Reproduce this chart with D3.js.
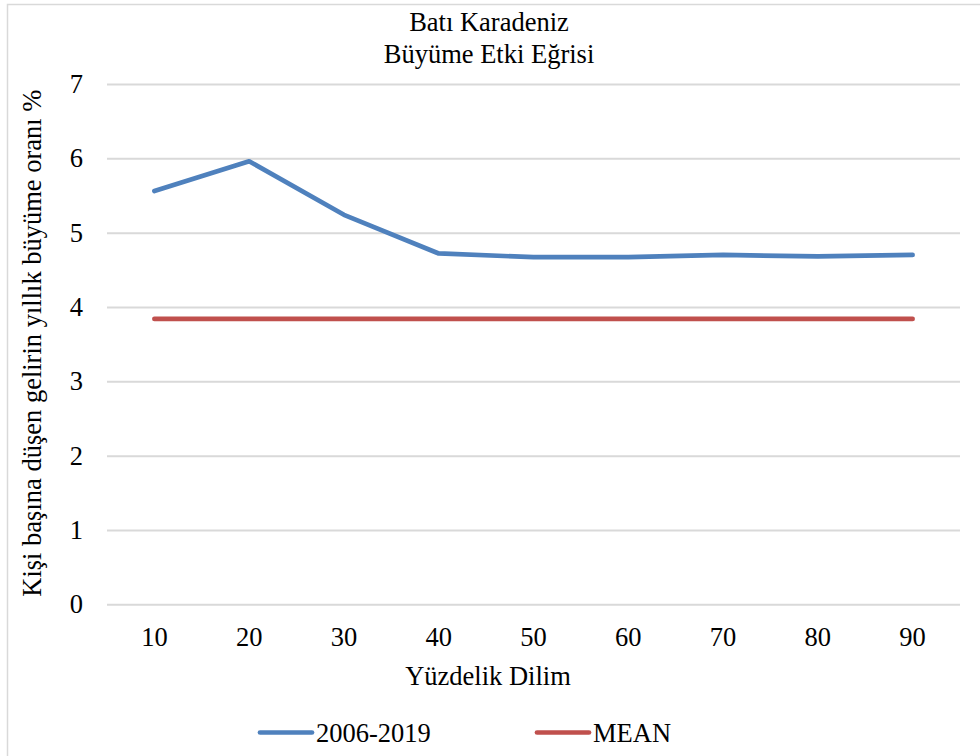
<!DOCTYPE html>
<html><head><meta charset="utf-8">
<script src="https://cdn.jsdelivr.net/npm/d3@7"></script>
<style>html,body{margin:0;padding:0;background:#fff;}svg{display:block;}</style>
</head><body>
<script>
const categories = ["10","20","30","40","50","60","70","80","90"];
const series2006 = [5.56, 5.96, 5.24, 4.72, 4.67, 4.67, 4.70, 4.68, 4.70];
const seriesMean = [3.84, 3.84, 3.84, 3.84, 3.84, 3.84, 3.84, 3.84, 3.84];
const yTicks = [0,1,2,3,4,5,6,7];
const titleLines = ["Batı Karadeniz", "Büyüme Etki Eğrisi"];
const xTitle = "Yüzdelik Dilim";
const yTitle = "Kişi başına düşen gelirin yıllık büyüme oranı %";
const legendLabels = ["2006-2019", "MEAN"];

(function () {
const W = 980, H = 756;
const font = "'Liberation Serif', 'Times New Roman', serif";
const fs = 26.5;
const svg = d3.select("body").append("svg").attr("width", W).attr("height", H);
svg.append("rect").attr("width", W).attr("height", H).attr("fill", "#fff");
svg.append("rect").attr("x", 7.5).attr("y", 4.5).attr("width", 990).attr("height", 800)
  .attr("fill", "none").attr("stroke", "#d9d9d9").attr("stroke-width", 1.5);

const pL = 107, pR = 960, pT = 84, pB = 604.3;
const x = d3.scaleBand().domain(categories).range([pL, pR]);
const y = d3.scaleLinear().domain([0, 7]).range([pB, pT]);

const yAxis = d3.axisLeft(y).tickValues(yTicks).tickSize(-(pR - pL)).tickPadding(24).tickFormat(d3.format("d"));
const gy = svg.append("g").attr("transform", `translate(${pL},0)`).call(yAxis);
gy.select(".domain").remove();
gy.selectAll(".tick line").attr("stroke", "#d9d9d9").attr("stroke-width", 2);
gy.selectAll(".tick text").attr("font-family", font).attr("font-size", fs).attr("fill", "#000");

const xAxis = d3.axisBottom(x).tickSize(0).tickPadding(23);
const gx = svg.append("g").attr("transform", `translate(0,${pB})`).call(xAxis);
gx.select(".domain").remove();
gx.selectAll(".tick text").attr("font-family", font).attr("font-size", fs).attr("fill", "#000");

const line = d3.line().x((d, i) => x(categories[i]) + x.bandwidth() / 2).y(d => y(d));
svg.append("path").datum(seriesMean).attr("d", line).attr("fill", "none")
  .attr("stroke", "#c0504d").attr("stroke-width", 4.7).attr("stroke-linecap", "round").attr("stroke-linejoin", "round");
svg.append("path").datum(series2006).attr("d", line).attr("fill", "none")
  .attr("stroke", "#4f81bd").attr("stroke-width", 4.7).attr("stroke-linecap", "round").attr("stroke-linejoin", "round");

svg.selectAll(".title").data(titleLines).enter().append("text")
  .attr("x", 489).attr("y", (d, i) => 31 + i * 32).attr("text-anchor", "middle")
  .attr("font-family", font).attr("font-size", fs).text(d => d);

svg.append("text").attr("x", 488).attr("y", 685).attr("text-anchor", "middle")
  .attr("font-family", font).attr("font-size", fs).text(xTitle);

svg.append("text").attr("transform", `translate(41,${(pT + pB) / 2 - 1}) rotate(-90)`)
  .attr("text-anchor", "middle").attr("font-family", font).attr("font-size", fs).text(yTitle);

const legColors = ["#4f81bd", "#c0504d"];
const legX = [260, 537];
legendLabels.forEach((lab, i) => {
  svg.append("line").attr("x1", legX[i]).attr("x2", legX[i] + 52).attr("y1", 732.5).attr("y2", 732.5)
    .attr("stroke", legColors[i]).attr("stroke-width", 4.7).attr("stroke-linecap", "round");
  svg.append("text").attr("x", legX[i] + 56).attr("y", 742).attr("font-family", font)
    .attr("font-size", fs).text(lab);
});
})();
</script>
</body></html>
